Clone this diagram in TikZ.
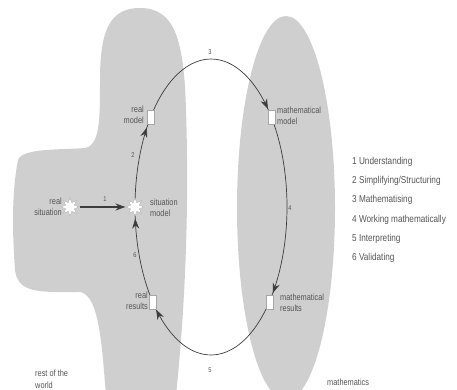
\documentclass[tikz,border=0pt]{standalone}
\usepackage{fontspec}
\setmainfont[FakeStretch=0.82]{Liberation Sans}
\usetikzlibrary{arrows.meta,shapes.geometric,decorations.markings,backgrounds}
\definecolor{bggray}{RGB}{207,207,207}
\definecolor{linec}{RGB}{60,60,60}
\definecolor{txt}{RGB}{85,85,85}
\begin{document}
\begin{tikzpicture}[x=1pt,y=1pt,
  lbl/.style={font=\fontsize{9}{10.5}\selectfont, text=txt, inner sep=0pt},
  num/.style={font=\fontsize{7}{8}\selectfont, text=txt, inner sep=1pt},
  box/.style={rectangle, fill=white, draw=gray!70, line width=0.4pt, minimum width=7pt, minimum height=14pt, inner sep=0pt},
  starnode/.style={star, star points=8, star point ratio=1.9, minimum size=18pt, fill=white, draw=gray!60, line width=0.4pt, inner sep=0pt},
  cyc/.style={draw=linec, line width=0.7pt},
  arrat/.style={postaction={decorate}, decoration={markings, mark=at position #1 with {\arrow{Stealth[length=10pt,width=7pt]}}}}
]
\useasboundingbox (0,0) rectangle (457,390);
\coordinate (C) at (211,183);

% nodes
\node[box] (rm) at ([shift={(142.6:76 and 148)}]C) {};
\node[box] (mm) at ([shift={(37.4:76 and 148)}]C) {};
\node[box] (mr) at ([shift={(-39.9:76 and 148)}]C) {};
\node[box] (rr) at ([shift={(219.9:76 and 148)}]C) {};
\node[starnode] (sm) at ([shift={(180:76 and 148)}]C) {};
\node[starnode] (rs) at (70,183) {};

\begin{scope}[on background layer]
  % rest of the world
  \fill[bggray] (140,382)
    .. controls (175,382) and (184,350) .. (186,280)
    .. controls (189,190) and (186,90) .. (176,-5)
    -- (106,-5)
    .. controls (102,40) and (100,95) .. (80,98)
    .. controls (40,98) and (18,96) .. (15,120)
    .. controls (12,160) and (12,200) .. (18,230)
    .. controls (22,242) and (60,240) .. (85,242)
    .. controls (100,245) and (100,270) .. (100,310)
    .. controls (100,360) and (110,382) .. (140,382) -- cycle;
  % mathematics
  \fill[bggray] (286,182) ellipse[x radius=49, y radius=192];
  % cycle
  \draw[cyc, arrat=0.88] (sm.center) arc[start angle=180, end angle=142.6, x radius=76pt, y radius=148pt];
  \draw[cyc, arrat=0.95] (rm.center) arc[start angle=142.6, end angle=37.4, x radius=76pt, y radius=148pt];
  \draw[cyc, arrat=0.95] (mm.center) arc[start angle=37.4, end angle=-39.9, x radius=76pt, y radius=148pt];
  \draw[cyc, arrat=0.95] (mr.center) arc[start angle=-39.9, end angle=-140.1, x radius=76pt, y radius=148pt];
  \draw[cyc, arrat=0.88] (rr.center) arc[start angle=219.9, end angle=180, x radius=76pt, y radius=148pt];
\end{scope}

\draw[draw=linec, line width=1.6pt, -{Stealth[length=10pt,width=7pt]}] (rs) -- (sm);

% labels
\node[lbl, anchor=east, align=right] (lrs) at (62,183) {real\\situation};
\node[lbl, anchor=west, align=left] (lsm) at (150,182) {situation\\model};
\node[lbl, anchor=east, align=right] (lrm) at (144,275) {real\\model};
\node[lbl, anchor=west, align=left] (lmm) at (277,274) {mathematical\\model};
\node[lbl, anchor=west, align=left] (lmr) at (280,87) {mathematical\\results};
\node[lbl, anchor=east, align=right] (lrr) at (148,89) {real\\results};

\node[num] (n1) at (105,191) {1};
\node[num] (n2) at (133,235) {2};
\node[num] (n3) at (210,338) {3};
\node[num] (n4) at (290,182) {4};
\node[num] (n5) at (210,20) {5};
\node[num] (n6) at (135,135) {6};

\node[font=\fontsize{10}{19.2}\selectfont, text=txt, align=left, anchor=west, inner sep=0pt] (list) at (352,180)
  {1 Understanding\\2 Simplifying/Structuring\\3 Mathematising\\4 Working mathematically\\5 Interpreting\\6 Validating};

\node[lbl, anchor=north west, align=left, font=\fontsize{9}{12}\selectfont] (row) at (35,20) {rest of the\\world};
\node[lbl, anchor=west] (lmath) at (327,8) {mathematics};
\end{tikzpicture}
\end{document}
